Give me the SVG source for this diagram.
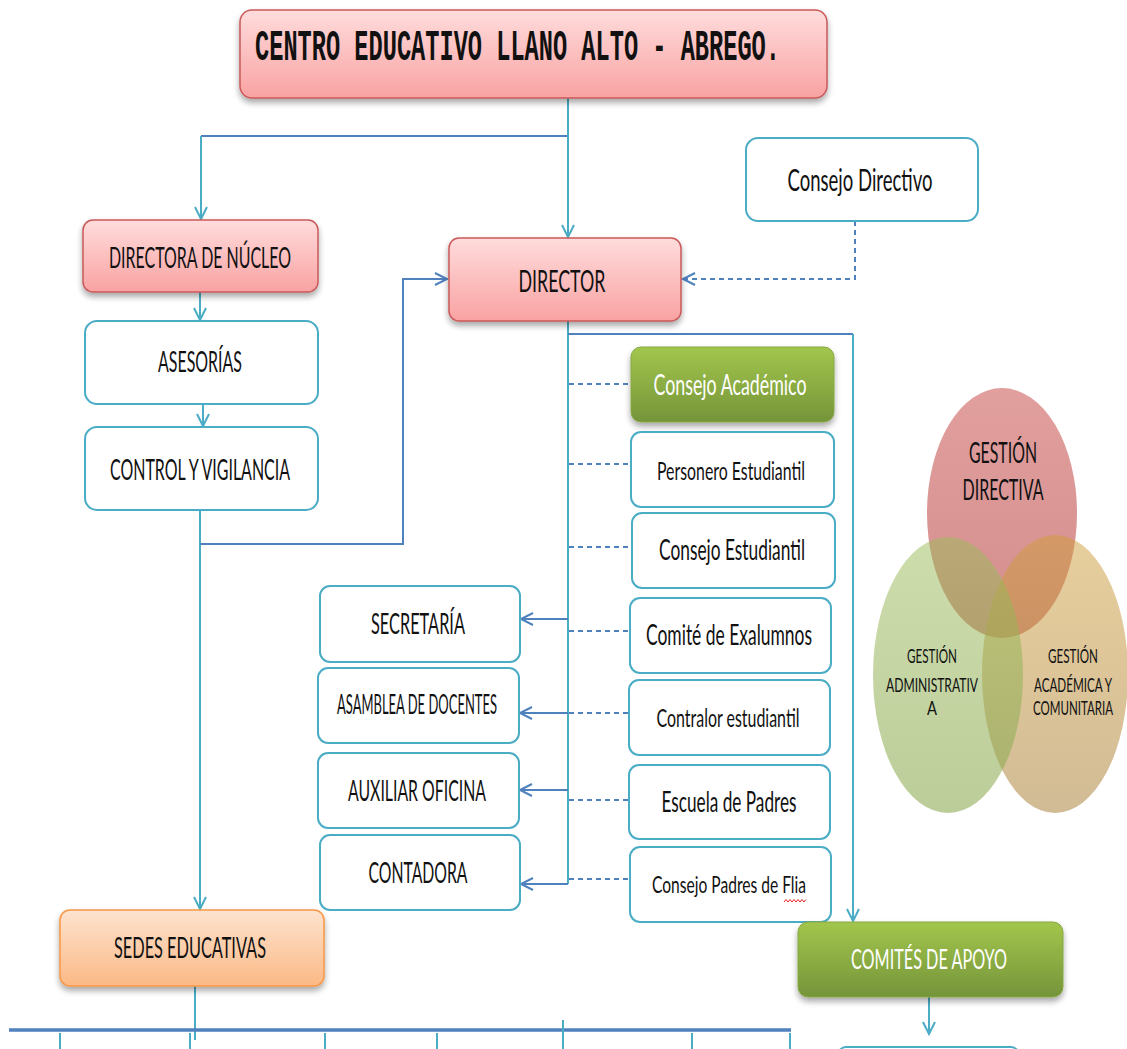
<svg xmlns="http://www.w3.org/2000/svg" width="1127" height="1049" viewBox="0 0 1127 1049">
<style>
.t{font-family:Lato,"Open Sans","DejaVu Sans",sans-serif;fill:#111;text-anchor:middle}
.w{fill:#fff}
.pink{fill:url(#gPink);stroke:#c9595a;stroke-width:1.5}
.white{fill:#fff;stroke:#4bacc6;stroke-width:2}
.green{fill:url(#gGreen);stroke:#86a843;stroke-width:1}
.orange{fill:url(#gOrange);stroke:#f79646;stroke-width:1.5}
.cy{stroke:#4bacc6;stroke-width:2;fill:none}
.bl{stroke:#4f81bd;stroke-width:2;fill:none}
.ds{stroke:#4f81bd;stroke-width:2;fill:none;stroke-dasharray:5 4}
</style>
<defs>
<linearGradient id="gPink" x1="0" y1="0" x2="0" y2="1"><stop offset="0" stop-color="#ffdcdc"/><stop offset="1" stop-color="#f9a2a2"/></linearGradient>
<linearGradient id="gGreen" x1="0" y1="0" x2="0" y2="1"><stop offset="0" stop-color="#a2c64c"/><stop offset="1" stop-color="#75943a"/></linearGradient>
<linearGradient id="gOrange" x1="0" y1="0" x2="0" y2="1"><stop offset="0" stop-color="#fde3cf"/><stop offset="1" stop-color="#fbb985"/></linearGradient>
<linearGradient id="vRed" x1="0" y1="0" x2="0" y2="1"><stop offset="0" stop-color="#c8504d" stop-opacity="0.55"/><stop offset="1" stop-color="#b84846" stop-opacity="0.62"/></linearGradient>
<linearGradient id="vGreen" x1="0" y1="0" x2="0" y2="1"><stop offset="0" stop-color="#9bbb59" stop-opacity="0.5"/><stop offset="1" stop-color="#8aa850" stop-opacity="0.58"/></linearGradient>
<linearGradient id="vTan" x1="0" y1="0" x2="0" y2="1"><stop offset="0" stop-color="#cf9d3a" stop-opacity="0.5"/><stop offset="1" stop-color="#b08a48" stop-opacity="0.58"/></linearGradient>
<filter id="sh" x="-10%" y="-10%" width="120%" height="140%">
<feGaussianBlur in="SourceAlpha" stdDeviation="3"/><feOffset dy="4" result="o"/>
<feComponentTransfer><feFuncA type="linear" slope="0.35"/></feComponentTransfer>
<feMerge><feMergeNode/><feMergeNode in="SourceGraphic"/></feMerge>
</filter>
<marker id="aC" markerUnits="userSpaceOnUse" markerWidth="16" markerHeight="16" refX="13" refY="7" orient="auto"><path d="M1,1 L13,7 L1,13" fill="none" stroke="#4bacc6" stroke-width="2"/></marker>
<marker id="aB" markerUnits="userSpaceOnUse" markerWidth="16" markerHeight="16" refX="13" refY="7" orient="auto"><path d="M1,1 L13,7 L1,13" fill="none" stroke="#4f81bd" stroke-width="2"/></marker>
</defs>
<rect width="1127" height="1049" fill="#fff"/>

<g id="connectors">
<path class="bl" d="M201,136 H568"/>
<path class="cy" d="M568,98 V237" marker-end="url(#aC)"/>
<path class="cy" d="M201,136 V219" marker-end="url(#aC)"/>
<path class="cy" d="M200,292 V320" marker-end="url(#aC)"/>
<path class="cy" d="M203,404 V426" marker-end="url(#aC)"/>
<path class="cy" d="M200,510 V909" marker-end="url(#aC)"/>
<path class="bl" d="M200,544 H403 V279 H447" marker-end="url(#aB)"/>
<path class="ds" d="M855,221 V279 H683" marker-end="url(#aB)"/>
<path class="cy" d="M568,321 V884"/>
<path class="bl" d="M568,334 H853"/>
<path class="cy" d="M853,334 V921" marker-end="url(#aC)"/>
<path class="ds" d="M569,384 H631"/>
<path class="ds" d="M569,464 H631"/>
<path class="ds" d="M569,547 H632"/>
<path class="ds" d="M569,631 H630"/>
<path class="ds" d="M569,713 H629"/>
<path class="ds" d="M569,800 H629"/>
<path class="ds" d="M569,879 H630"/>
<path class="bl" d="M568,619 H521" marker-end="url(#aB)"/>
<path class="bl" d="M568,713 H520" marker-end="url(#aB)"/>
<path class="bl" d="M568,790 H520" marker-end="url(#aB)"/>
<path class="bl" d="M568,884 H521" marker-end="url(#aB)"/>
<path class="cy" d="M195,986 V1040"/>
<path d="M9,1030 H791" stroke="#4f81bd" stroke-width="3.5" fill="none"/>
<path class="cy" d="M60,1033 V1049 M190,1033 V1049 M325,1033 V1049 M437,1033 V1049 M563,1020 V1049 M692,1033 V1049 M790,1033 V1049"/>
<path class="cy" d="M929,997 V1034" marker-end="url(#aC)"/>
</g>

<g id="title"><rect class="pink" x="240" y="10" width="587" height="88" rx="12" filter="url(#sh)"/>
<text x="255" y="60" font-family="'Liberation Mono','Courier New',monospace" font-weight="bold" font-size="44" fill="#111" textLength="525" lengthAdjust="spacingAndGlyphs">CENTRO EDUCATIVO LLANO ALTO - ABREGO.</text></g>

<g id="directora"><rect class="pink" x="83" y="220" width="235" height="72" rx="10" filter="url(#sh)"/>
<text class="t" x="200" y="268" font-size="28" textLength="182" lengthAdjust="spacingAndGlyphs">DIRECTORA DE NÚCLEO</text></g>

<g id="asesorias"><rect class="white" x="85" y="321" width="233" height="83" rx="12"/>
<text class="t" x="200" y="372" font-size="28" textLength="84" lengthAdjust="spacingAndGlyphs">ASESORÍAS</text></g>

<g id="control"><rect class="white" x="85" y="427" width="233" height="83" rx="12"/>
<text class="t" x="200" y="480" font-size="28" textLength="180" lengthAdjust="spacingAndGlyphs">CONTROL Y VIGILANCIA</text></g>

<g id="director"><rect class="pink" x="449" y="238" width="232" height="83" rx="10" filter="url(#sh)"/>
<text class="t" x="562" y="292" font-size="30" textLength="87" lengthAdjust="spacingAndGlyphs">DIRECTOR</text></g>

<g id="consejo-directivo"><rect class="white" x="746" y="138" width="232" height="83" rx="12"/>
<text class="t" x="860" y="191" font-size="30" textLength="145" lengthAdjust="spacingAndGlyphs">Consejo Directivo</text></g>

<g id="consejo-academico"><rect class="green" x="631" y="347" width="203" height="75" rx="10" filter="url(#sh)"/>
<text class="t w" x="730" y="395" font-size="28" textLength="153" lengthAdjust="spacingAndGlyphs">Consejo Académico</text></g>

<g id="personero"><rect class="white" x="631" y="432" width="203" height="75" rx="10"/>
<text class="t" x="731" y="480" font-size="25" textLength="148" lengthAdjust="spacingAndGlyphs">Personero Estudiantil</text></g>

<g id="consejo-estudiantil"><rect class="white" x="632" y="513" width="203" height="75" rx="10"/>
<text class="t" x="732" y="560" font-size="29" textLength="146" lengthAdjust="spacingAndGlyphs">Consejo Estudiantil</text></g>

<g id="comite-exalumnos"><rect class="white" x="630" y="598" width="201" height="75" rx="10"/>
<text class="t" x="729" y="645" font-size="28" textLength="166" lengthAdjust="spacingAndGlyphs">Comité de Exalumnos</text></g>

<g id="contralor"><rect class="white" x="629" y="680" width="201" height="75" rx="10"/>
<text class="t" x="728" y="727" font-size="25" textLength="143" lengthAdjust="spacingAndGlyphs">Contralor estudiantil</text></g>

<g id="escuela-padres"><rect class="white" x="629" y="765" width="201" height="74" rx="10"/>
<text class="t" x="729" y="812" font-size="28" textLength="135" lengthAdjust="spacingAndGlyphs">Escuela de Padres</text></g>

<g id="consejo-padres"><rect class="white" x="630" y="847" width="201" height="75" rx="10"/>
<text class="t" x="729" y="893" font-size="24" textLength="154" lengthAdjust="spacingAndGlyphs">Consejo Padres de Flia</text>
<path d="M784,902 l2,-2.5 l2,2.5 l2,-2.5 l2,2.5 l2,-2.5 l2,2.5 l2,-2.5 l2,2.5 l2,-2.5 l2,2.5 l2,-2.5" fill="none" stroke="#e02020" stroke-width="1"/></g>

<g id="secretaria"><rect class="white" x="320" y="586" width="200" height="76" rx="10"/>
<text class="t" x="418" y="634" font-size="28" textLength="94" lengthAdjust="spacingAndGlyphs">SECRETARÍA</text></g>

<g id="asamblea"><rect class="white" x="318" y="668" width="201" height="75" rx="10"/>
<text class="t" x="417" y="714" font-size="26" textLength="160" lengthAdjust="spacingAndGlyphs">ASAMBLEA DE DOCENTES</text></g>

<g id="auxiliar"><rect class="white" x="318" y="753" width="201" height="75" rx="10"/>
<text class="t" x="417" y="801" font-size="28" textLength="138" lengthAdjust="spacingAndGlyphs">AUXILIAR OFICINA</text></g>

<g id="contadora"><rect class="white" x="320" y="835" width="200" height="75" rx="10"/>
<text class="t" x="418" y="883" font-size="28" textLength="99" lengthAdjust="spacingAndGlyphs">CONTADORA</text></g>

<g id="sedes"><rect class="orange" x="60" y="910" width="264" height="76" rx="10" filter="url(#sh)"/>
<text class="t" x="190" y="958" font-size="29" textLength="152" lengthAdjust="spacingAndGlyphs">SEDES EDUCATIVAS</text></g>

<g id="comites"><rect class="green" x="798" y="922" width="265" height="75" rx="10" filter="url(#sh)"/>
<text class="t w" x="929" y="969" font-size="27" textLength="156" lengthAdjust="spacingAndGlyphs">COMITÉS DE APOYO</text></g>

<g id="comites-child"><rect class="white" x="838" y="1047" width="181" height="40" rx="8"/></g>

<g id="venn">
<ellipse cx="1002" cy="513" rx="75" ry="125" fill="url(#vRed)"/>
<ellipse cx="1055" cy="674" rx="73" ry="139" fill="url(#vTan)"/>
<ellipse cx="948" cy="675" rx="75" ry="138" fill="url(#vGreen)"/>
<text class="t" x="1003" y="463" font-size="28" textLength="68" lengthAdjust="spacingAndGlyphs">GESTIÓN</text>
<text class="t" x="1003" y="500" font-size="28" textLength="81" lengthAdjust="spacingAndGlyphs">DIRECTIVA</text>
<text class="t" x="932" y="663" font-size="20" textLength="50" lengthAdjust="spacingAndGlyphs">GESTIÓN</text>
<text class="t" x="932" y="692" font-size="20" textLength="92" lengthAdjust="spacingAndGlyphs">ADMINISTRATIV</text>
<text class="t" x="932" y="715" font-size="20" textLength="10" lengthAdjust="spacingAndGlyphs">A</text>
<text class="t" x="1073" y="663" font-size="20" textLength="50" lengthAdjust="spacingAndGlyphs">GESTIÓN</text>
<text class="t" x="1073" y="692" font-size="20" textLength="78" lengthAdjust="spacingAndGlyphs">ACADÉMICA Y</text>
<text class="t" x="1073" y="715" font-size="20" textLength="80" lengthAdjust="spacingAndGlyphs">COMUNITARIA</text>
</g>
</svg>
